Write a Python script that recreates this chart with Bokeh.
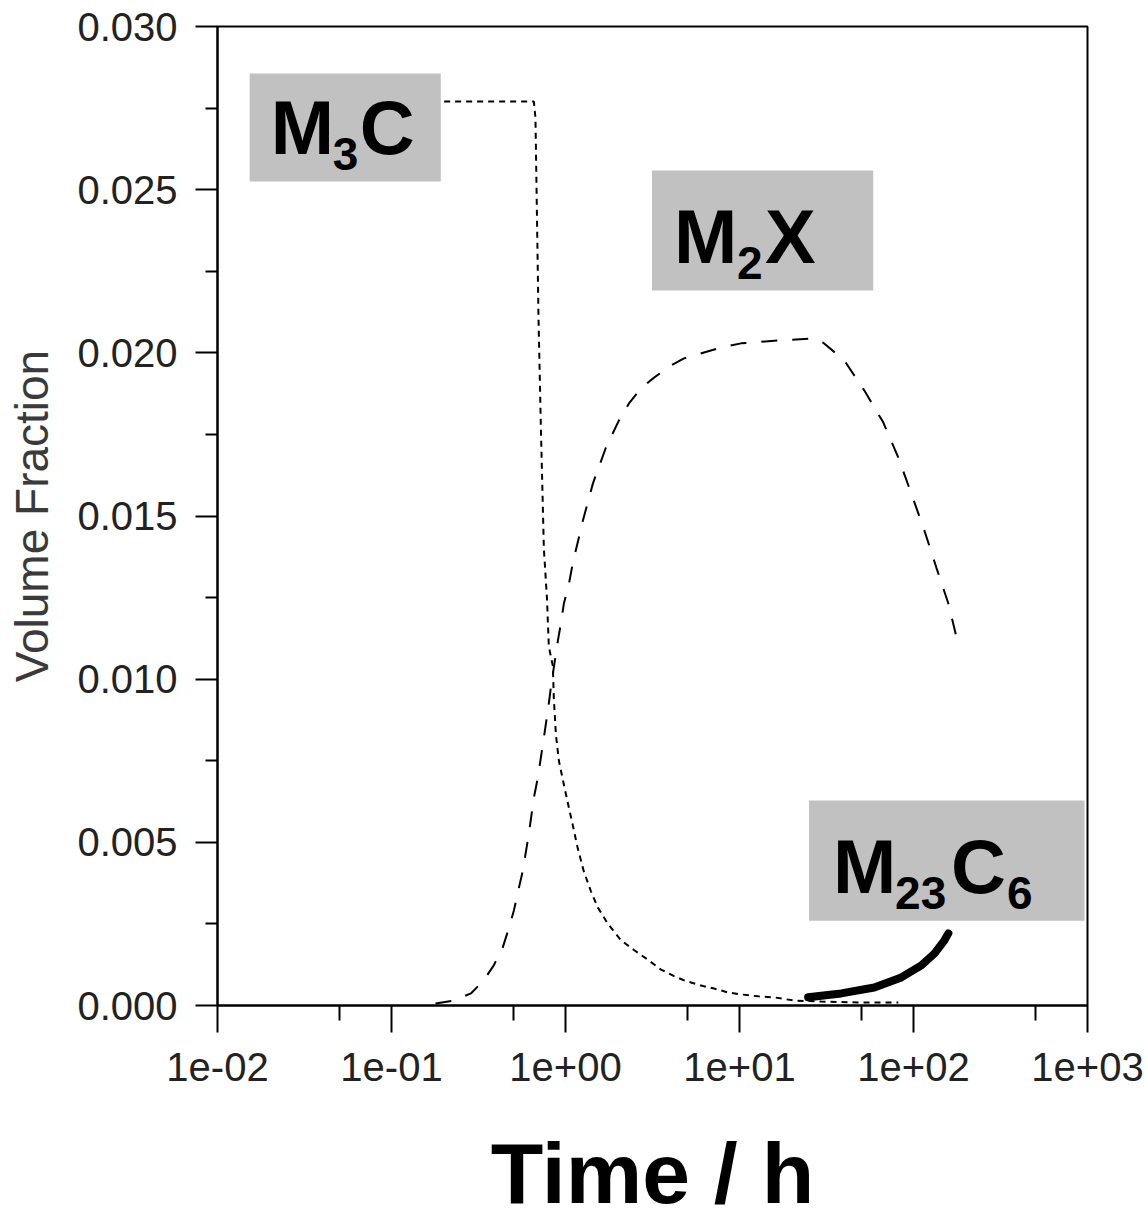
from bokeh.plotting import figure
from bokeh.models import FixedTicker, Range1d, BoxAnnotation, Label
from bokeh.embed import file_html
from bokeh.resources import INLINE

# ---------------- data ----------------
x_tick_values = [0.01, 0.1, 1.0, 10.0, 100.0, 1000.0]
x_tick_labels = ["1e-02", "1e-01", "1e+00", "1e+01", "1e+02", "1e+03"]
x_minor_values = [0.05, 0.5, 5.0, 50.0, 500.0]

y_tick_values = [0.0, 0.005, 0.010, 0.015, 0.020, 0.025, 0.030]
y_tick_labels = ["0.000", "0.005", "0.010", "0.015", "0.020", "0.025", "0.030"]
y_minor_values = [0.0025, 0.0075, 0.0125, 0.0175, 0.0225, 0.0275]

m3c_time = [0.15, 0.658, 0.672, 0.700, 0.722, 0.751, 0.782, 0.802, 0.846, 0.857,
            0.881, 0.916, 0.967, 1.032, 1.104, 1.178, 1.276, 1.40, 1.535, 1.754,
            2.084, 2.475, 2.98, 3.54, 4.21, 4.80, 6.01, 7.14, 8.60, 10.2,
            12.8, 15.8, 20.6, 29.5, 50.1, 81.8]
m3c_frac = [0.0277, 0.0277, 0.0272, 0.0210, 0.0177, 0.0140, 0.0125, 0.0110, 0.0104, 0.0094,
            0.0083, 0.0075, 0.0069, 0.0062, 0.0055, 0.0048, 0.0041, 0.0035, 0.0030, 0.0025,
            0.0020, 0.0017, 0.0014, 0.0011, 0.0009, 0.00077, 0.00061, 0.00052, 0.00040, 0.00034,
            0.00028, 0.00025, 0.00015, 0.00012, 0.00009, 0.00009]

m2x_time = [0.179, 0.228, 0.286, 0.339, 0.387, 0.436, 0.472, 0.505, 0.532, 0.569,
            0.616, 0.658, 0.694, 0.722, 0.751, 0.792, 0.824, 0.857, 0.904, 0.941,
            0.979, 1.047, 1.104, 1.259, 1.438, 1.708, 2.029, 2.316, 2.716, 3.228,
            4.04, 4.80, 6.25, 7.84, 10.2, 16.7, 26.9, 30.3, 40.0, 52.1,
            67.0, 81.8, 97.1, 115.4, 135.3, 158.6, 180.0]
m2x_frac = [0.00006, 0.00015, 0.00037, 0.00077, 0.00123, 0.00178, 0.00236, 0.00291, 0.00346, 0.00414,
            0.00527, 0.00637, 0.00699, 0.00760, 0.00821, 0.00904, 0.00974, 0.01036, 0.01118, 0.01171,
            0.01232, 0.01293, 0.01358, 0.01486, 0.01600, 0.01710, 0.01793, 0.01845, 0.01891, 0.01924,
            0.01961, 0.01983, 0.02001, 0.02016, 0.02029, 0.02038, 0.02044, 0.02031, 0.01977, 0.01885,
            0.01787, 0.01679, 0.01569, 0.01456, 0.01342, 0.01232, 0.01110]

m23c6_time = [24.8, 38.4, 59.5, 85.1, 110.9, 131.8, 150.3, 158.6]
m23c6_frac = [0.00025, 0.00037, 0.00055, 0.00086, 0.00123, 0.00159, 0.00199, 0.00221]

# phase label boxes (data coords): left, right, bottom, top
label_boxes = {
    "M3C": (0.0153, 0.192, 0.02525, 0.02856),
    "M2X": (3.14, 58.7, 0.02191, 0.02559),
    "M23C6": (25.1, 961.0, 0.00260, 0.00628),
}
# text pieces: (text, is_subscript, x offset in px from box left)
label_pieces = {
    "M3C": [("M", False, 21), ("3", True, 83), ("C", False, 110)],
    "M2X": [("M", False, 22), ("2", True, 85), ("X", False, 113)],
    "M23C6": [("M", False, 24), ("23", True, 86), ("C", False, 142), ("6", True, 198)],
}

FONT = "Liberation Sans"
FRAME_H = 979
Y0, Y1 = 0.0, 0.030
DY_PER_PX = (Y1 - Y0) / FRAME_H

p = figure(width=1146, height=1223, x_axis_type="log",
           x_range=Range1d(0.01, 1000), y_range=Range1d(Y0, Y1),
           output_backend="svg", toolbar_location=None,
           min_border_left=217, min_border_right=59,
           min_border_top=26, min_border_bottom=218)
p.grid.visible = False
p.background_fill_color = "white"
p.border_fill_color = "white"
p.outline_line_color = "black"
p.outline_line_width = 2

# x axis
xa = p.xaxis[0]
xa.ticker = FixedTicker(ticks=x_tick_values, minor_ticks=x_minor_values)
xa.major_label_overrides = dict(zip(x_tick_values, x_tick_labels))
xa.axis_label = "Time / h"
xa.axis_label_text_font = FONT
xa.axis_label_text_font_size = "86px"
xa.axis_label_text_font_style = "bold"
xa.axis_label_text_color = "black"
xa.axis_label_standoff = 41
xa.major_tick_out = 27
xa.minor_tick_out = 15
xa.major_label_standoff = 20

# y axis
ya = p.yaxis[0]
ya.ticker = FixedTicker(ticks=y_tick_values, minor_ticks=y_minor_values)
ya.major_label_overrides = dict(zip(y_tick_values, y_tick_labels))
ya.axis_label = "Volume Fraction"
ya.axis_label_text_font = FONT
ya.axis_label_text_font_size = "46px"
ya.axis_label_text_font_style = "normal"
ya.axis_label_text_color = "#3a3a3a"
ya.axis_label_standoff = 16
ya.major_tick_out = 22
ya.minor_tick_out = 12
ya.major_label_standoff = 18

for ax in (xa, ya):
    ax.axis_line_color = "black"
    ax.axis_line_width = 2
    ax.major_tick_line_color = "black"
    ax.major_tick_line_width = 2
    ax.minor_tick_line_color = "black"
    ax.minor_tick_line_width = 2
    ax.major_tick_in = 0
    ax.minor_tick_in = 0
    ax.major_label_text_font = FONT
    ax.major_label_text_font_size = "40px"
    ax.major_label_text_color = "#222222"

# curves
p.line(m3c_time, m3c_frac, line_color="black", line_width=2, line_dash="6 5")
p.line(m2x_time, m2x_frac, line_color="black", line_width=2, line_dash="16 15")
p.line(m23c6_time, m23c6_frac, line_color="black", line_width=8, line_cap="round")

# labels
for name, (x0, x1, y0, y1) in label_boxes.items():
    p.add_layout(BoxAnnotation(left=x0, right=x1, bottom=y0, top=y1,
                               fill_color="#c0c1c0", fill_alpha=1.0, line_alpha=0.0))
for name, pieces in label_pieces.items():
    x0, x1, y0, y1 = label_boxes[name]
    for txt, sub, dx in pieces:
        rise = 28 if sub else 54
        p.add_layout(Label(x=x0, y=y0 + rise * DY_PER_PX, x_offset=dx,
                           text=txt, text_font=FONT,
                           text_font_size=("46px" if sub else "76px"),
                           text_font_style="bold", text_color="black",
                           text_align="left", text_baseline="alphabetic"))

open("out.html", "w").write(file_html(p, INLINE))
